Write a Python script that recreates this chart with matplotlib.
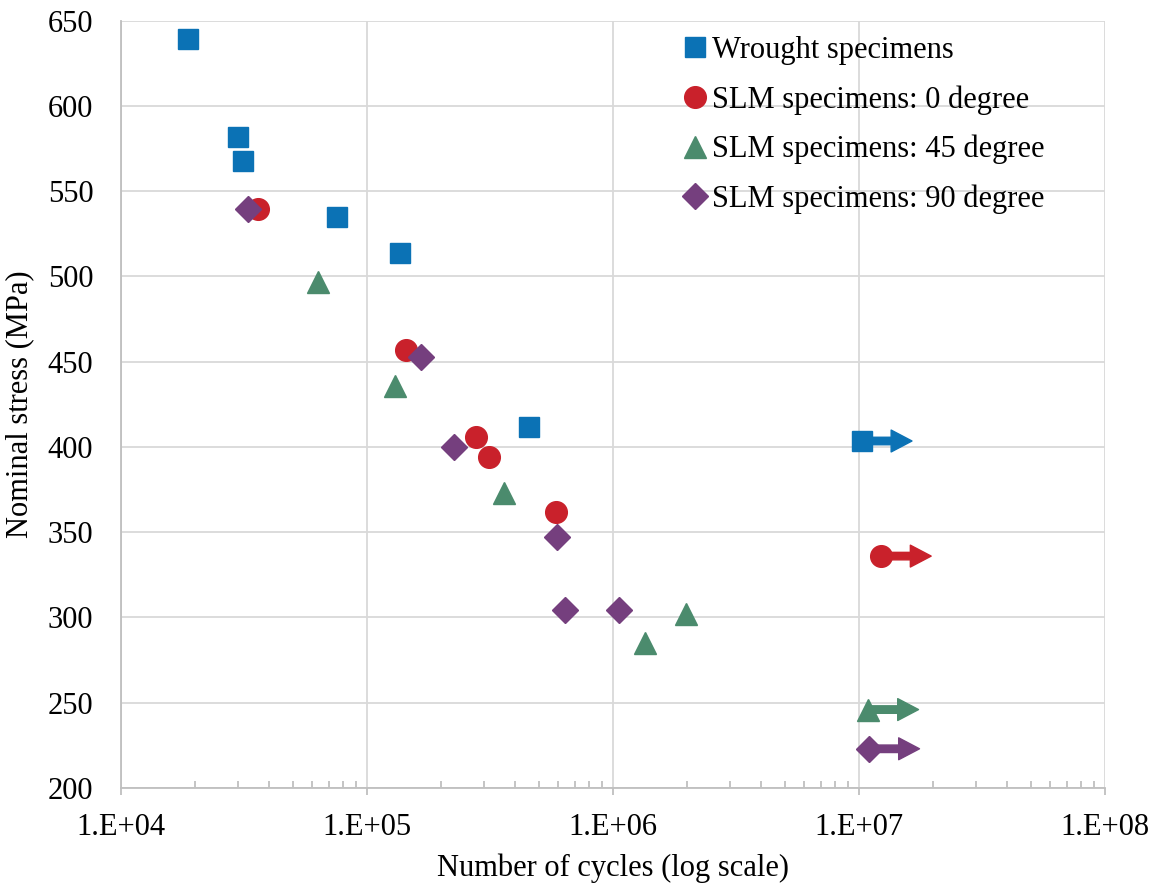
#Imports
import matplotlib
matplotlib.use("Agg")
import matplotlib.pyplot as plt
import numpy as np
from matplotlib.ticker import LogLocator, FuncFormatter, NullFormatter

#Data (cycles, stress in MPa)
wrought_n = [18700, 29900, 31300, 75700, 136600, 454000]
wrought_s = [639, 582, 568, 535, 514, 412]
slm0_n = [36200, 144000, 277000, 314000, 587000]
slm0_s = [539.5, 457, 406, 394, 362]
slm45_n = [63400, 129600, 362000, 1349000, 1975000]
slm45_s = [497, 436, 373, 285, 302]
slm90_n = [32900, 165000, 226000, 590000, 638000, 1061000]
slm90_s = [539.5, 452.5, 400, 347, 304.5, 304.5]

#Run-out specimens (no failure), drawn with an arrow
runout_n = [10260000, 12280000, 10910000, 11010000]
runout_s = [403.5, 336, 246, 223]

labels = ["Wrought specimens", "SLM specimens: 0 degree",
          "SLM specimens: 45 degree", "SLM specimens: 90 degree"]
colors = ["#0B72B5", "#C9212B", "#4B8B6D", "#753F7E"]
markers = ["s", "o", "^", "D"]
sizes = [14.9, 15.6, 15.8, 13.5]

plt.rcParams["font.family"] = ["Liberation Serif", "DejaVu Serif"]

fig = plt.figure(figsize=(11.56, 8.84), dpi=100)
ax = fig.add_axes([0.1047, 0.1086, 0.8512, 0.868])

series_n = [wrought_n, slm0_n, slm45_n, slm90_n]
series_s = [wrought_s, slm0_s, slm45_s, slm90_s]
for i in range(4):
    ax.plot(series_n[i], series_s[i], linestyle="none", marker=markers[i],
            markersize=sizes[i], color=colors[i], label=labels[i], zorder=3)
    #arrow pointing right for the run-out point
    ax.annotate("", xy=(runout_n[i] * 1.6, runout_s[i]), xytext=(runout_n[i], runout_s[i]),
                arrowprops=dict(arrowstyle="simple,head_length=1.0,head_width=1.05,tail_width=0.36",
                                color=colors[i], shrinkA=0, shrinkB=0, mutation_scale=15),
                zorder=3)
    ax.plot([runout_n[i]], [runout_s[i]], linestyle="none", marker=markers[i],
            markersize=sizes[i], color=colors[i], zorder=4)

ax.set_xscale("log")
ax.set_xlim(1e4, 1e8)
ax.set_ylim(200, 650)
ax.set_yticks(np.arange(200, 651, 50))
ax.xaxis.set_major_locator(LogLocator(base=10, numticks=10))
ax.xaxis.set_minor_locator(LogLocator(base=10, subs=np.arange(2, 10), numticks=10))
ax.xaxis.set_minor_formatter(NullFormatter())
ax.xaxis.set_major_formatter(FuncFormatter(lambda v, p: "1.E+%02d" % int(round(np.log10(v)))))

#Grid and axes styling
ax.grid(True, which="major", color="#D9D9D9", linewidth=1.3)
ax.set_axisbelow(True)
for side in ["top", "right"]:
    ax.spines[side].set_visible(False)
for side in ["left", "bottom"]:
    ax.spines[side].set_color("#BFBFBF")
    ax.spines[side].set_linewidth(1.3)
ax.tick_params(axis="x", which="major", direction="out", length=5, width=1.3,
               color="#BFBFBF", labelsize=22, pad=13)
ax.tick_params(axis="x", which="minor", direction="in", length=5, width=1.3, color="#BFBFBF")
ax.tick_params(axis="y", length=0, labelsize=22, pad=20)

ax.set_xlabel("Number of cycles (log scale)", fontsize=22, labelpad=8)
ax.set_ylabel("Nominal stress (MPa)", fontsize=22, labelpad=10)

ax.legend(loc="upper right", bbox_to_anchor=(0.954, 1.0), frameon=False, fontsize=22,
          handlelength=0.8, handletextpad=0.15, labelspacing=0.66, borderaxespad=0.1,
          markerscale=1.0)

fig.savefig("out.png", dpi=100)
